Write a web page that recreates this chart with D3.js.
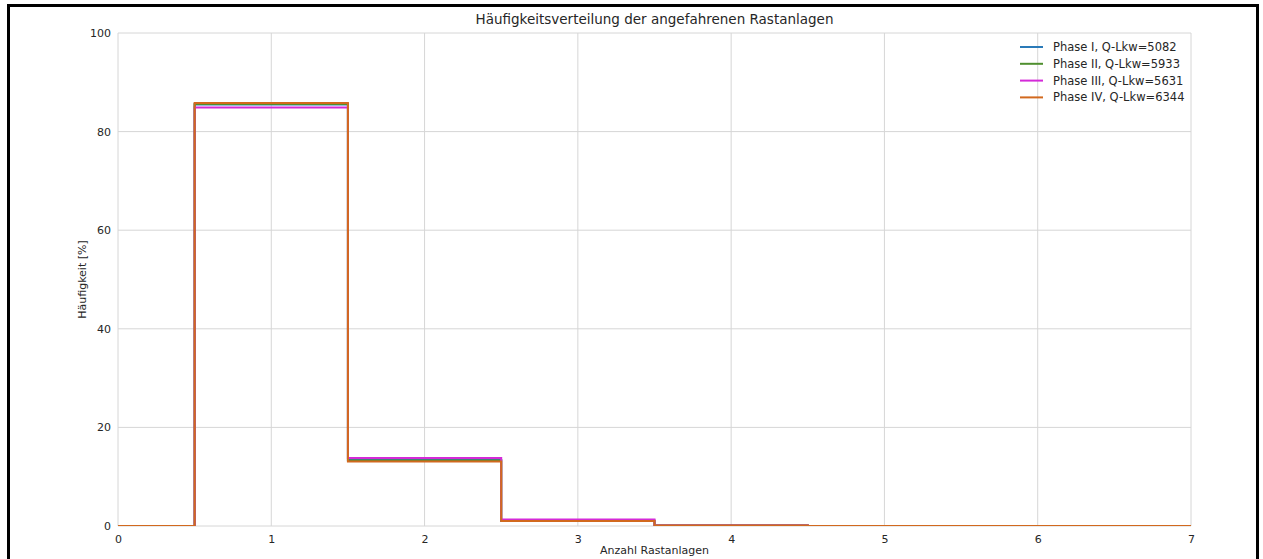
<!DOCTYPE html>
<html>
<head>
<meta charset="utf-8">
<script src="https://cdn.jsdelivr.net/npm/d3@7"></script>
<style>
  body { margin: 0; background: #fff; }
  text { font-family: "DejaVu Sans", sans-serif; }
</style>
</head>
<body>
<div id="chart"></div>
<script>
// Anzahl Rastanlagen (bin centres) and frequencies in %
var bins = [0, 1, 2, 3, 4, 5, 6, 7];
var phaseI   = [0, 85.5, 13.4, 1.0, 0.1, 0, 0, 0];
var phaseII  = [0, 85.6, 13.3, 1.1, 0.1, 0, 0, 0];
var phaseIII = [0, 84.9, 13.8, 1.3, 0.1, 0, 0, 0];
var phaseIV  = [0, 85.8, 13.1, 1.0, 0.1, 0, 0, 0];
var seriesNames = ["Phase I, Q-Lkw=5082", "Phase II, Q-Lkw=5933", "Phase III, Q-Lkw=5631", "Phase IV, Q-Lkw=6344"];
var xTicks = [0, 1, 2, 3, 4, 5, 6, 7];
var yTicks = [0, 20, 40, 60, 80, 100];

var seriesValues = [phaseI, phaseII, phaseIII, phaseIV];
var colors = ["#2a7ab8", "#4f8f2f", "#d42ad8", "#d2691e"];

var width = 1263;
var height = 559;
var margin = { top: 33, right: 72, bottom: 33, left: 118 };

var svg = d3.select("#chart")
            .append("svg")
            .attr("width", width)
            .attr("height", height);

// figure frame
svg.append("path")
   .attr("d", "M8.5,559 L8.5,5.5 L1257.5,5.5 L1257.5,559")
   .attr("fill", "none")
   .attr("stroke", "black")
   .attr("stroke-width", 3);

var x = d3.scaleLinear()
          .domain([0, 7])
          .range([margin.left, width - margin.right]);

var y = d3.scaleLinear()
          .domain([0, 100])
          .range([height - margin.bottom, margin.top]);

// grid
svg.append("g")
   .selectAll("line")
   .data(xTicks)
   .join("line")
   .attr("x1", function(d) { return x(d); })
   .attr("x2", function(d) { return x(d); })
   .attr("y1", y(0))
   .attr("y2", y(100))
   .attr("stroke", "#d6d6d6")
   .attr("stroke-width", 1);

svg.append("g")
   .selectAll("line")
   .data(yTicks)
   .join("line")
   .attr("x1", x(0))
   .attr("x2", x(7))
   .attr("y1", function(d) { return y(d); })
   .attr("y2", function(d) { return y(d); })
   .attr("stroke", "#d6d6d6")
   .attr("stroke-width", 1);

// axes (labels only, grid drawn above)
var xAxis = svg.append("g")
   .attr("transform", "translate(0," + y(0) + ")")
   .call(d3.axisBottom(x).tickValues(xTicks).tickSize(0).tickPadding(9).tickFormat(d3.format("d")));
var yAxis = svg.append("g")
   .attr("transform", "translate(" + x(0) + ",0)")
   .call(d3.axisLeft(y).tickValues(yTicks).tickSize(0).tickPadding(7).tickFormat(d3.format("d")));
[xAxis, yAxis].forEach(function(a) {
   a.select(".domain").remove();
   a.selectAll("text").style("font-size", "11px").attr("fill", "#262626");
});

// step lines, clipped to the plot area
svg.append("clipPath")
   .attr("id", "plotclip")
   .append("rect")
   .attr("x", x(0))
   .attr("y", y(100))
   .attr("width", x(7) - x(0))
   .attr("height", y(0) - y(100));

var line = d3.line()
   .x(function(d, i) { return x(bins[i]); })
   .y(function(d) { return y(d); })
   .curve(d3.curveStep);

svg.append("g")
   .attr("clip-path", "url(#plotclip)")
   .selectAll("path")
   .data(seriesValues)
   .join("path")
   .attr("d", function(d) { return line(d); })
   .attr("fill", "none")
   .attr("stroke", function(d, i) { return colors[i]; })
   .attr("stroke-width", 2);

// title
svg.append("text")
   .attr("x", (x(0) + x(7)) / 2)
   .attr("y", 24)
   .attr("text-anchor", "middle")
   .style("font-size", "13.5px")
   .attr("fill", "#262626")
   .text("Häufigkeitsverteilung der angefahrenen Rastanlagen");

// axis labels
svg.append("text")
   .attr("x", (x(0) + x(7)) / 2)
   .attr("y", 554)
   .attr("text-anchor", "middle")
   .style("font-size", "11px")
   .attr("fill", "#262626")
   .text("Anzahl Rastanlagen");

svg.append("text")
   .attr("transform", "rotate(-90)")
   .attr("x", -(y(0) + y(100)) / 2)
   .attr("y", 86)
   .attr("text-anchor", "middle")
   .style("font-size", "11px")
   .attr("fill", "#262626")
   .text("Häufigkeit [%]");

// legend
var legend = svg.append("g")
   .selectAll("g")
   .data(seriesNames)
   .join("g")
   .attr("transform", function(d, i) { return "translate(1020," + (47 + i * 16.8) + ")"; });

legend.append("line")
   .attr("x1", 0)
   .attr("x2", 23)
   .attr("stroke", function(d, i) { return colors[i]; })
   .attr("stroke-width", 2);

legend.append("text")
   .attr("x", 33)
   .attr("dy", "0.35em")
   .style("font-size", "11.5px")
   .attr("fill", "#262626")
   .text(function(d) { return d; });
</script>
</body>
</html>
